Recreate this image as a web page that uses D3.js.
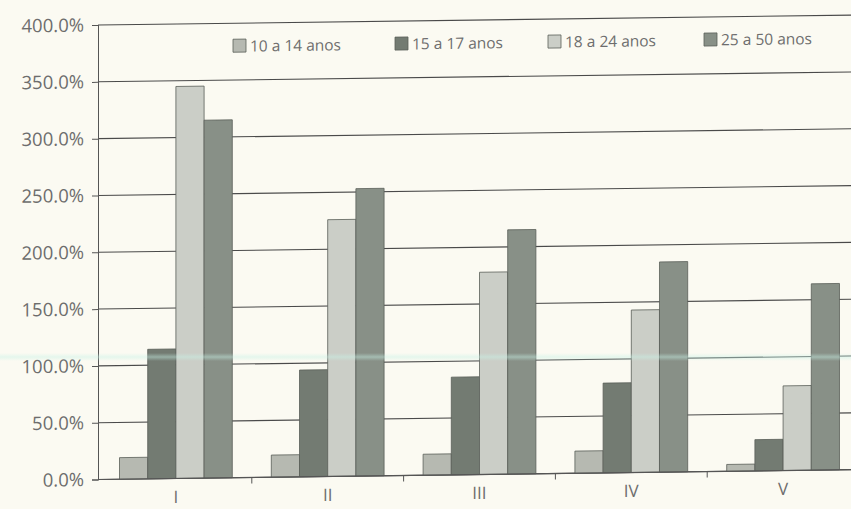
<!DOCTYPE html>
<html>
<head>
<meta charset="utf-8">
<script src="https://cdn.jsdelivr.net/npm/d3@7"></script>
<style>
  html, body { margin: 0; padding: 0; background: #fbfaf2; }
  svg { display: block; }
  text { font-family: "Open Sans", "Noto Sans", sans-serif; fill: #6d6d6d; }
</style>
</head>
<body>
<svg id="chart" width="851" height="509"></svg>
<script>
// Regiões (categorias) e faixas etárias (séries)
const categories = ["I", "II", "III", "IV", "V"];
const seriesNames = ["10 a 14 anos", "15 a 17 anos", "18 a 24 anos", "25 a 50 anos"];

// Variação percentual por faixa etária
const values10a14 = [19, 19.5, 18.5, 19.5, 6];
const values15a17 = [114, 94, 86, 79, 27.5];
const values18a24 = [345, 226, 178, 143, 74.5];
const values25a50 = [315, 253, 215, 185, 164];

const yTicks = [0, 50, 100, 150, 200, 250, 300, 350, 400];

const seriesValues = [values10a14, values15a17, values18a24, values25a50];
const seriesColors = ["#b6b9b1", "#737b72", "#cbcec7", "#889087"];

const svg = d3.select("#chart");
const W = 851, H = 509;

svg.append("rect").attr("width", W).attr("height", H).attr("fill", "#fbfaf2");

const axisX = 98;
const g = svg.append("g")
  .attr("transform", `translate(${axisX},0) skewY(-0.75) translate(${-axisX},0)`);

const x0 = d3.scaleBand().domain(categories).range([100, 859])
  .paddingInner(0.257).paddingOuter(0.1285);
const x1 = d3.scaleBand().domain(seriesNames).range([0, x0.bandwidth()]);
const y = d3.scaleLinear().domain([0, 400]).range([479.5, 25]);

// Linhas de grade horizontais
g.append("g").selectAll("line").data(yTicks).join("line")
  .attr("x1", axisX).attr("x2", 870)
  .attr("y1", d => y(d)).attr("y2", d => y(d))
  .attr("stroke", "#4a4a4a").attr("stroke-width", 1.1);

// Barras agrupadas
const rows = categories.map((c, i) => ({ cat: c, vals: seriesNames.map((s, k) => ({ s, k, v: seriesValues[k][i] })) }));
g.append("g").selectAll("g").data(rows).join("g")
  .attr("transform", d => `translate(${x0(d.cat)},0)`)
  .selectAll("rect").data(d => d.vals).join("rect")
  .attr("x", d => x1(d.s))
  .attr("width", x1.bandwidth())
  .attr("y", d => y(d.v))
  .attr("height", d => y(0) - y(d.v))
  .attr("fill", d => seriesColors[d.k])
  .attr("stroke", "#5a5f59").attr("stroke-width", 0.8);

// Eixo vertical
const yAxis = d3.axisLeft(y).tickValues(yTicks)
  .tickFormat(d => d.toFixed(1) + "%").tickSize(6).tickPadding(8);
const ya = g.append("g").attr("transform", `translate(${axisX},0)`).call(yAxis);
ya.select(".domain").attr("stroke", "#555");
ya.selectAll(".tick line").attr("stroke", "#555");
ya.selectAll(".tick text").style("font-size", "18.5px").attr("fill", "#6d6d6d");

// Eixo horizontal: linha base, marcas entre categorias e rótulos
g.append("line").attr("x1", axisX).attr("x2", 870)
  .attr("y1", y(0)).attr("y2", y(0)).attr("stroke", "#555").attr("stroke-width", 1.2);
const bounds = categories.slice(1).map(c => x0(c) - x0.step() * x0.paddingInner() / 2);
g.append("g").selectAll("line").data(bounds).join("line")
  .attr("x1", d => d).attr("x2", d => d)
  .attr("y1", y(0)).attr("y2", y(0) + 6)
  .attr("stroke", "#555");
g.append("g").selectAll("text").data(categories).join("text")
  .attr("x", d => x0(d) + x0.bandwidth() / 2)
  .attr("y", 504)
  .attr("text-anchor", "middle")
  .style("font-size", "17px")
  .text(d => d);

// Legenda
const legendX = [233, 395, 548, 704];
const legend = g.append("g").selectAll("g").data(seriesNames).join("g")
  .attr("transform", (d, i) => `translate(${legendX[i]},${48})`);
legend.append("rect").attr("x", 0).attr("y", -7).attr("width", 13).attr("height", 13)
  .attr("fill", (d, i) => seriesColors[i]).attr("stroke", "#5a5f59").attr("stroke-width", 0.8);
legend.append("text").attr("x", 17).attr("y", 5.5)
  .style("font-size", "15.5px").text(d => d);

// Faixa clara horizontal do papel
const defs = svg.append("defs");
const grad = defs.append("linearGradient").attr("id", "sheen").attr("x1", 0).attr("x2", 0).attr("y1", 0).attr("y2", 1);
grad.append("stop").attr("offset", "0%").attr("stop-color", "#c8f2e6").attr("stop-opacity", 0);
grad.append("stop").attr("offset", "50%").attr("stop-color", "#c8f2e6").attr("stop-opacity", 0.45);
grad.append("stop").attr("offset", "100%").attr("stop-color", "#c8f2e6").attr("stop-opacity", 0);
svg.append("rect").attr("x", 0).attr("y", 353).attr("width", W).attr("height", 8)
  .attr("fill", "url(#sheen)");
</script>
</body>
</html>
